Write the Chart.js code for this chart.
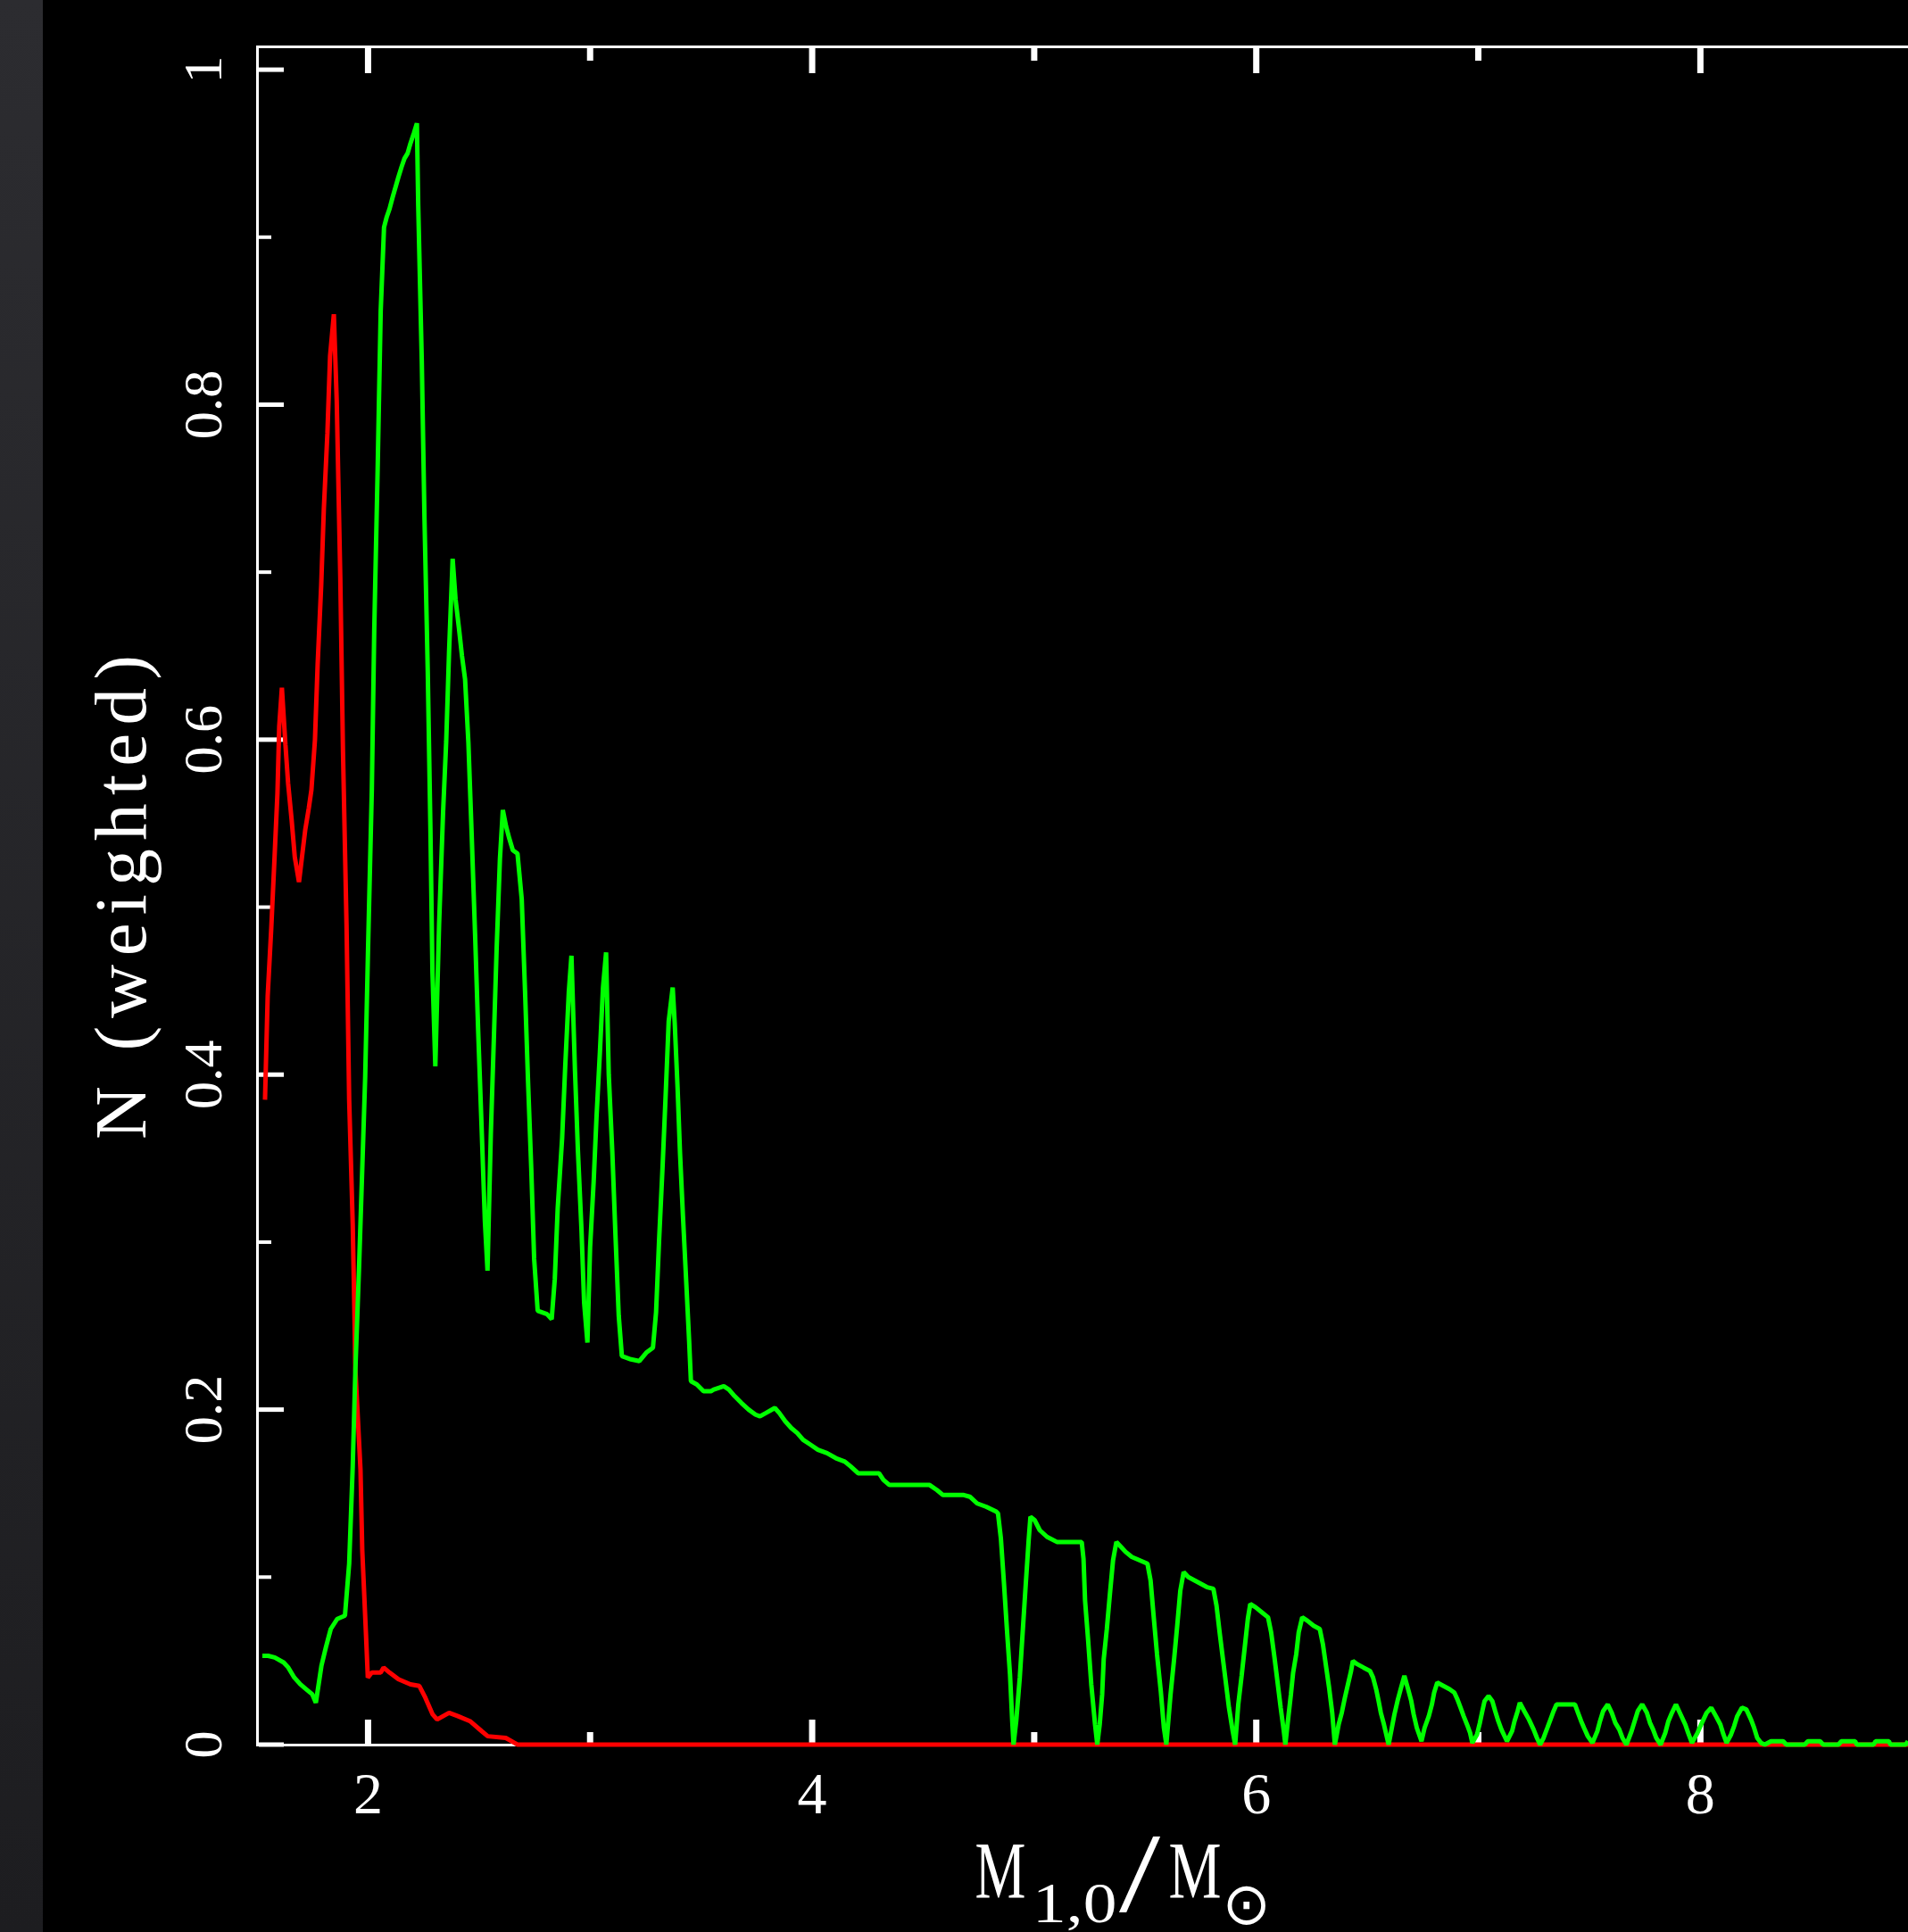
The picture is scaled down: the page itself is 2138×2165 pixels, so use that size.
<!DOCTYPE html>
<html><head><meta charset="utf-8">
<script src="https://cdn.jsdelivr.net/npm/chart.js@4.4.1/dist/chart.umd.min.js"></script>
<style>html,body{margin:0;padding:0;background:#000;overflow:hidden}canvas{display:block}</style>
</head><body>
<canvas id="c" width="2138" height="2165"></canvas>
<script>
// ---- data ----
const greenX = [
 1.524,1.550,1.580,1.620,1.641,1.668,1.695,1.722,1.749,1.765,
 1.790,1.810,1.832,1.861,1.896,1.915,1.931,1.943,1.959,1.973,
 1.987,2.000,2.017,2.028,2.043,2.057,2.072,2.084,2.097,2.111,
 2.124,2.137,2.151,2.164,2.178,2.191,2.206,2.220,2.226,2.242,
 2.254,2.269,2.281,2.290,2.303,2.320,2.338,2.352,2.365,2.381,
 2.394,2.409,2.423,2.437,2.452,2.467,2.482,2.496,2.511,2.526,
 2.538,2.553,2.566,2.579,2.594,2.607,2.622,2.636,2.652,2.673,
 2.692,2.707,2.720,2.735,2.748,2.764,2.806,2.827,2.841,2.854,
 2.874,2.888,2.904,2.916,2.932,2.945,2.961,2.973,2.988,3.000,
 3.016,3.029,3.044,3.058,3.072,3.084,3.100,3.114,3.129,3.143,
 3.184,3.222,3.253,3.283,3.297,3.311,3.326,3.340,3.354,3.372,
 3.381,3.394,3.405,3.418,3.433,3.446,3.454,3.481,3.511,3.544,
 3.557,3.602,3.625,3.651,3.681,3.714,3.745,3.765,3.792,3.832,
 3.852,3.879,3.906,3.933,3.959,3.993,4.026,4.067,4.107,4.147,
 4.174,4.207,4.301,4.321,4.348,4.529,4.562,4.589,4.683,4.710,
 4.743,4.784,4.830,4.837,4.850,4.864,4.877,4.891,4.901,4.907,
 4.919,4.935,4.948,4.962,4.975,4.983,5.002,5.025,5.058,5.102,
 5.214,5.222,5.229,5.243,5.257,5.274,5.284,5.295,5.306,5.313,
 5.327,5.341,5.355,5.370,5.391,5.412,5.440,5.475,5.510,5.524,
 5.539,5.553,5.570,5.584,5.595,5.614,5.630,5.644,5.658,5.673,
 5.694,5.722,5.750,5.778,5.807,5.821,5.835,5.849,5.863,5.877,
 5.894,5.905,5.919,5.934,5.948,5.962,5.973,5.997,6.025,6.053,
 6.067,6.082,6.096,6.110,6.124,6.131,6.145,6.156,6.166,6.180,
 6.191,6.207,6.230,6.258,6.286,6.300,6.314,6.328,6.342,6.354,
 6.371,6.385,6.399,6.413,6.427,6.435,6.455,6.483,6.512,6.526,
 6.540,6.551,6.561,6.575,6.596,6.622,6.636,6.650,6.667,6.684,
 6.698,6.709,6.723,6.744,6.758,6.777,6.791,6.801,6.815,6.843,
 6.871,6.892,6.906,6.920,6.934,6.949,6.963,6.973,6.994,7.007,
 7.018,7.028,7.046,7.063,7.076,7.090,7.104,7.129,7.152,7.163,
 7.177,7.187,7.207,7.228,7.249,7.264,7.278,7.294,7.311,7.325,
 7.339,7.352,7.435,7.449,7.463,7.476,7.493,7.514,7.536,7.548,
 7.562,7.583,7.601,7.617,7.635,7.649,7.667,7.690,7.704,7.718,
 7.738,7.759,7.773,7.787,7.801,7.821,7.842,7.856,7.872,7.890,
 7.911,7.932,7.945,7.962,7.987,8.007,8.028,8.049,8.070,8.090,
 8.104,8.118,8.138,8.152,8.166,8.187,8.207,8.228,8.242,8.256,
 8.273,8.290,8.318,8.373,8.387,8.470,8.484,8.539,8.553,8.622,
 8.635,8.697,8.704,8.780,8.789,8.849,8.856,8.925,8.935
];
const greenY = [
 0.053,0.053,0.052,0.049,0.046,0.040,0.036,0.033,0.030,0.025,
 0.047,0.058,0.069,0.075,0.077,0.108,0.166,0.224,0.283,0.340,
 0.398,0.475,0.570,0.666,0.760,0.856,0.906,0.912,0.917,0.924,
 0.930,0.936,0.942,0.947,0.950,0.956,0.962,0.968,0.919,0.826,
 0.733,0.640,0.546,0.461,0.405,0.490,0.557,0.599,0.653,0.708,
 0.684,0.667,0.650,0.636,0.598,0.542,0.484,0.426,0.370,0.313,
 0.283,0.365,0.419,0.475,0.529,0.558,0.548,0.541,0.534,0.532,
 0.505,0.450,0.398,0.344,0.290,0.259,0.257,0.254,0.278,0.320,
 0.362,0.405,0.449,0.471,0.402,0.355,0.308,0.264,0.240,0.297,
 0.336,0.375,0.413,0.452,0.473,0.400,0.354,0.305,0.256,0.232,
 0.230,0.229,0.234,0.237,0.258,0.302,0.344,0.387,0.432,0.452,
 0.431,0.392,0.353,0.316,0.276,0.241,0.217,0.215,0.211,0.211,
 0.212,0.214,0.212,0.208,0.204,0.200,0.197,0.196,0.198,0.201,
 0.198,0.193,0.189,0.186,0.182,0.179,0.176,0.174,0.171,0.169,
 0.166,0.162,0.162,0.158,0.155,0.155,0.152,0.149,0.149,0.148,
 0.144,0.142,0.139,0.138,0.123,0.096,0.069,0.042,0.014,0.000,
 0.014,0.040,0.067,0.096,0.122,0.136,0.134,0.128,0.124,0.121,
 0.121,0.111,0.086,0.062,0.036,0.012,0.000,0.012,0.030,0.051,
 0.069,0.090,0.110,0.121,0.118,0.115,0.112,0.110,0.108,0.098,
 0.075,0.054,0.032,0.010,0.000,0.030,0.051,0.071,0.092,0.103,
 0.100,0.098,0.096,0.094,0.093,0.083,0.067,0.052,0.037,0.022,
 0.008,0.000,0.024,0.041,0.058,0.075,0.084,0.082,0.079,0.076,
 0.067,0.052,0.037,0.022,0.008,0.000,0.017,0.030,0.043,0.054,
 0.067,0.076,0.074,0.071,0.069,0.060,0.047,0.034,0.019,0.000,
 0.012,0.019,0.028,0.036,0.044,0.050,0.048,0.046,0.044,0.040,
 0.033,0.026,0.019,0.012,0.000,0.018,0.026,0.033,0.041,0.033,
 0.026,0.018,0.010,0.002,0.010,0.017,0.024,0.031,0.037,0.035,
 0.033,0.031,0.027,0.022,0.017,0.012,0.007,0.001,0.006,0.013,
 0.020,0.026,0.029,0.026,0.020,0.014,0.009,0.002,0.008,0.014,
 0.020,0.025,0.020,0.015,0.009,0.004,0.000,0.004,0.010,0.015,
 0.020,0.024,0.024,0.019,0.014,0.010,0.005,0.001,0.008,0.014,
 0.020,0.024,0.019,0.013,0.009,0.004,0.000,0.008,0.014,0.020,
 0.024,0.019,0.013,0.009,0.004,0.000,0.007,0.014,0.019,0.024,
 0.018,0.012,0.007,0.001,0.007,0.013,0.019,0.022,0.017,0.012,
 0.006,0.001,0.006,0.011,0.017,0.022,0.021,0.015,0.010,0.004,
 0.001,0.000,0.002,0.002,0.000,0.000,0.002,0.002,0.000,0.000,
 0.002,0.002,0.000,0.000,0.002,0.002,0.000,0.000,0.002
];
const redX = [
 1.536,1.548,1.564,1.578,1.592,1.600,1.612,1.628,1.640,1.656,
 1.670,1.689,1.717,1.733,1.745,1.761,1.773,1.789,1.801,1.817,
 1.829,1.846,1.859,1.875,1.887,1.903,1.915,1.931,1.938,1.943,
 1.966,1.974,1.990,1.999,2.017,2.057,2.070,2.097,2.137,2.191,
 2.231,2.258,2.291,2.311,2.365,2.405,2.459,2.512,2.539,2.620,
 2.660,2.673,8.935
];
const redY = [
 0.385,0.447,0.487,0.527,0.568,0.608,0.631,0.597,0.574,0.552,
 0.530,0.515,0.546,0.559,0.570,0.600,0.645,0.692,0.738,0.783,
 0.829,0.854,0.802,0.697,0.594,0.490,0.385,0.311,0.262,0.224,
 0.164,0.116,0.068,0.040,0.043,0.043,0.046,0.043,0.039,0.036,
 0.035,0.028,0.018,0.015,0.019,0.017,0.014,0.008,0.005,0.004,
 0.001,0.000,0.000
];
const xMajorTicks = [2, 4, 6, 8];
const xMinorTicks = [3, 5, 7];
const xTickLabels = ['2', '4', '6', '8'];
const yMajorTicks = [0, 0.2, 0.4, 0.6, 0.8, 1];
const yMinorTicks = [0.1, 0.3, 0.5, 0.7, 0.9];
const yTickLabels = ['0', '0.2', '0.4', '0.6', '0.8', '1'];
const xRange = [1.5, 8.935];
const yRange = [0, 1.0139];
const yTitle = 'N (weighted)';

// ---- rendering ----
const SERIF = '"Liberation Serif", "Times New Roman", serif';
const toPts = (xs, ys) => xs.map((x, i) => ({x: x, y: ys[i]}));

function fitInk(ctx, text, font, left, top, right, bottom) {
  ctx.save();
  ctx.font = font;
  ctx.textAlign = 'left';
  ctx.textBaseline = 'alphabetic';
  const m = ctx.measureText(text);
  const w = m.actualBoundingBoxLeft + m.actualBoundingBoxRight;
  const h = m.actualBoundingBoxAscent + m.actualBoundingBoxDescent;
  ctx.translate(left, top);
  ctx.scale((right - left) / w, (bottom - top) / h);
  ctx.fillText(text, m.actualBoundingBoxLeft, m.actualBoundingBoxAscent);
  ctx.restore();
}

function spacedCentered(ctx, text, cx, baseY, totalW) {
  const chars = [...text];
  const widths = chars.map(c => ctx.measureText(c).width);
  const sum = widths.reduce((a, b) => a + b, 0);
  const gap = (totalW - sum) / (chars.length - 1);
  let x = cx - totalW / 2;
  ctx.textAlign = 'left';
  chars.forEach((c, i) => { ctx.fillText(c, x, baseY); x += widths[i] + gap; });
}

const frame = {
  id: 'frame',
  beforeDraw(chart) {
    const ctx = chart.ctx;
    ctx.save();
    ctx.fillStyle = '#000';
    ctx.fillRect(0, 0, chart.width, chart.height);
    const g = ctx.createLinearGradient(0, 0, 0, chart.height);
    g.addColorStop(0, '#2c2c30');
    g.addColorStop(1, '#1d1d20');
    ctx.fillStyle = g;
    ctx.fillRect(0, 0, 48, chart.height);
    ctx.restore();
  },
  beforeDatasetsDraw(chart) {
    const {ctx, chartArea: a, scales: {x, y}} = chart;
    ctx.save();
    ctx.fillStyle = '#fff';
    ctx.fillRect(a.left - 1, a.top - 1, 3, a.bottom - a.top + 3);
    ctx.fillRect(a.left - 1, a.top - 1, a.right - a.left + 1, 3);
    ctx.fillRect(a.left - 1, a.bottom - 1, a.right - a.left + 1, 3);
    const xt = (v, len) => {
      const p = x.getPixelForValue(v);
      ctx.fillRect(p - 3.5, a.bottom - len, 7, len);
      ctx.fillRect(p - 3.5, a.top + 2, 7, len);
    };
    xMajorTicks.forEach(v => xt(v, 28));
    xMinorTicks.forEach(v => xt(v, 14));
    const yt = (v, len, th) => {
      const p = y.getPixelForValue(v);
      ctx.fillRect(a.left + 2, p - th / 2, len, th);
    };
    yMajorTicks.forEach(v => yt(v, 28, 5));
    yMinorTicks.forEach(v => yt(v, 14, 4));
    ctx.restore();
  },
  afterDraw(chart) {
    const {ctx, chartArea: a, scales: {x, y}} = chart;
    ctx.save();
    ctx.fillStyle = '#fff';
    ctx.textBaseline = 'alphabetic';
    // x tick labels
    ctx.font = '66px ' + SERIF;
    ctx.textAlign = 'center';
    xMajorTicks.forEach((v, i) => ctx.fillText(xTickLabels[i], x.getPixelForValue(v), a.bottom + 77));
    // y tick labels (rotated)
    ctx.font = '62px ' + SERIF;
    yMajorTicks.forEach((v, i) => {
      ctx.save();
      ctx.translate(a.left - 40, y.getPixelForValue(v));
      ctx.rotate(-Math.PI / 2);
      ctx.textAlign = 'center';
      ctx.fillText(yTickLabels[i], 0, 0);
      ctx.restore();
    });
    // y title
    ctx.save();
    ctx.font = '83px ' + SERIF;
    ctx.translate(163, (a.top + a.bottom) / 2 + 2);
    ctx.rotate(-Math.PI / 2);
    spacedCentered(ctx, yTitle, 0, 0, 543);
    ctx.restore();
    // x title  M_{1,0}/M_sun
    fitInk(ctx, 'M', '90px ' + SERIF, 1094, 2067, 1148, 2127);
    fitInk(ctx, '1,0', '64px ' + SERIF, 1163, 2113, 1249, 2164);
    fitInk(ctx, '/', '120px ' + SERIF, 1254, 2057, 1301, 2143);
    fitInk(ctx, 'M', '90px ' + SERIF, 1311, 2067, 1367, 2127);
    fitInk(ctx, '\u2299', '60px "DejaVu Sans", sans-serif', 1375, 2113, 1418, 2157);
    ctx.restore();
  }
};

new Chart(document.getElementById('c'), {
  type: 'line',
  data: {
    datasets: [
      {label: 'green', data: toPts(greenX, greenY), borderColor: '#00ff00', borderWidth: 5,
       pointRadius: 0, tension: 0, clip: false, borderJoinStyle: 'bevel'},
      {label: 'red', data: toPts(redX, redY), borderColor: '#ff0000', borderWidth: 5,
       pointRadius: 0, tension: 0, clip: false, borderJoinStyle: 'bevel'}
    ]
  },
  options: {
    responsive: false,
    animation: false,
    devicePixelRatio: 1,
    layout: {padding: {left: 288, top: 52, right: 0, bottom: 210}},
    plugins: {legend: {display: false}, tooltip: {enabled: false}},
    scales: {
      x: {type: 'linear', min: xRange[0], max: xRange[1], display: false,
          ticks: {stepSize: 1, includeBounds: false}},
      y: {type: 'linear', min: yRange[0], max: yRange[1], display: false,
          ticks: {stepSize: 0.1}}
    }
  },
  plugins: [frame]
});
</script>
</body></html>
